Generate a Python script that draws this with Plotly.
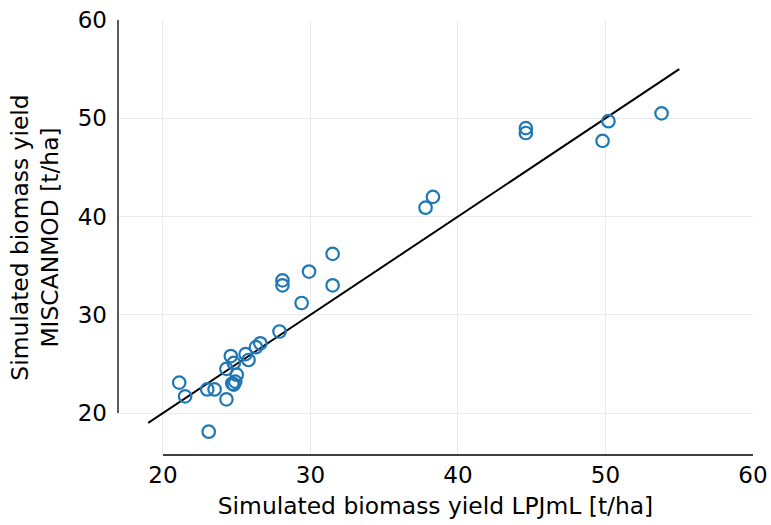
import plotly.graph_objects as go

lpjml = [21.1, 21.5, 23.0, 23.5, 23.1, 24.3, 24.3, 24.6, 24.8, 24.7, 24.9, 25.0, 24.8,
         25.6, 25.8, 26.3, 26.6, 27.9, 28.1, 28.1, 29.4, 29.9, 31.5, 31.5,
         37.8, 38.3, 44.6, 44.6, 49.8, 50.2, 53.8]
miscanmod = [23.1, 21.7, 22.4, 22.4, 18.1, 21.4, 24.5, 25.8, 25.1, 23.0, 23.2, 23.9, 22.9,
             26.0, 25.4, 26.7, 27.1, 28.3, 33.5, 33.0, 31.2, 34.4, 36.2, 33.0,
             40.9, 42.0, 49.0, 48.5, 47.7, 49.7, 50.5]
line_x = [19, 55]
line_y = [19, 55]
ticks = [20, 30, 40, 50, 60]

font = "DejaVu Sans"
fig = go.Figure()
fig.add_trace(go.Scatter(x=line_x, y=line_y, mode="lines",
                         line=dict(color="black", width=2), showlegend=False))
fig.add_trace(go.Scatter(x=lpjml, y=miscanmod, mode="markers",
                         marker=dict(symbol="circle-open", size=12.5, color="#1f77b4",
                                     line=dict(width=2.2, color="#1f77b4")),
                         showlegend=False))

grid = "#ebebeb"
tickfont = dict(family=font, size=23, color="black")
titlefont = dict(family=font, size=23.4, color="black")
fig.update_layout(
    width=771, height=525,
    margin=dict(l=118, r=18, t=20, b=70),
    plot_bgcolor="white", paper_bgcolor="white",
    font=dict(family=font, size=20, color="black"),
    xaxis=dict(range=[16.95, 60], tickvals=ticks, showgrid=True, gridcolor=grid,
               zeroline=False, showline=False, ticks="", ticklabelstandoff=4,
               automargin=False, tickfont=tickfont,
               title=dict(text="Simulated biomass yield LPJmL [t/ha]", standoff=10,
                          font=titlefont)),
    yaxis=dict(range=[15.73, 60], tickvals=ticks, showgrid=True, gridcolor=grid,
               zeroline=False, showline=False, ticks="", ticklabelstandoff=10,
               automargin=False, tickfont=tickfont,
               title=dict(text="Simulated biomass yield<br>MISCANMOD [t/ha]", standoff=12,
                          font=titlefont)),
    shapes=[
        dict(type="line", xref="paper", yref="y", x0=0, x1=0, y0=20, y1=60,
             line=dict(color="black", width=1.3)),
        dict(type="line", xref="x", yref="paper", x0=20, x1=60, y0=0, y1=0,
             line=dict(color="black", width=1.3)),
    ],
)
fig.write_html("out.html", config={"displayModeBar": False},
               post_script="document.body.style.margin='0';")
